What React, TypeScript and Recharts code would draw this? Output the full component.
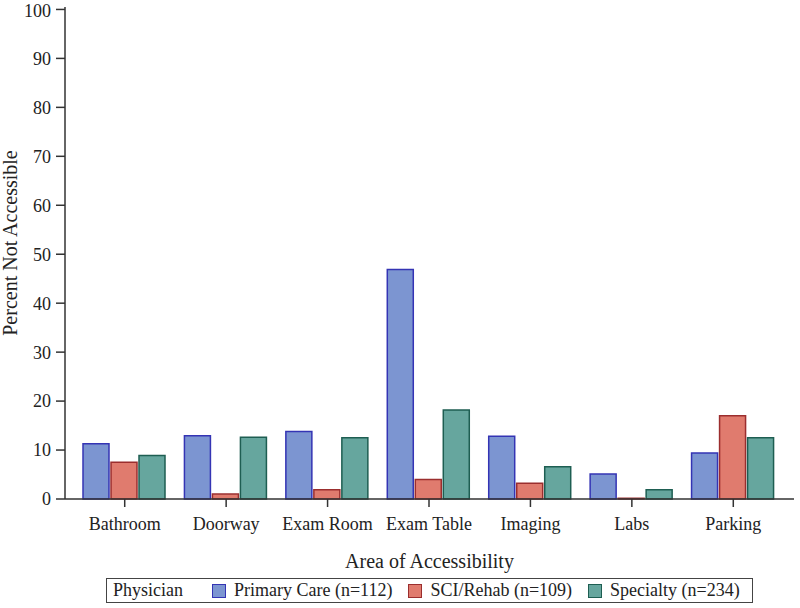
import { BarChart, Bar, XAxis, YAxis, Legend } from 'recharts';

const categories = ['Bathroom', 'Doorway', 'Exam Room', 'Exam Table', 'Imaging', 'Labs', 'Parking'];
const primaryCare = [11.3, 12.9, 13.8, 46.9, 12.8, 5.1, 9.4];
const sciRehab = [7.5, 1.0, 1.9, 4.0, 3.2, 0.15, 17.0];
const specialty = [8.9, 12.6, 12.5, 18.2, 6.6, 1.9, 12.5];
const yTicks = [0, 10, 20, 30, 40, 50, 60, 70, 80, 90, 100];

const seriesNames = ['Primary Care (n=112)', 'SCI/Rehab (n=109)', 'Specialty (n=234)'];

const FONT = '"Liberation Serif", "Times New Roman", serif';
const AXIS = '#333333';

const data = categories.map((name, i) => ({
  name,
  pc: primaryCare[i],
  sci: sciRehab[i],
  spec: specialty[i],
}));

// legend box with the "Physician" title in front
function LegendBox({ payload }: any) {
  return (
    <div
      style={{
        boxSizing: 'border-box',
        height: 25,
        border: '1.5px solid #444',
        display: 'flex',
        alignItems: 'center',
        fontFamily: FONT,
        fontSize: 18,
        color: '#222',
        paddingLeft: 6,
        whiteSpace: 'nowrap',
        overflow: 'hidden',
      }}
    >
      <span style={{ marginRight: 29 }}>Physician</span>
      {(payload || []).map((p: any) => (
        <span key={p.value} style={{ display: 'inline-flex', alignItems: 'center', marginRight: 16 }}>
          <span
            style={{
              display: 'inline-block',
              width: 12,
              height: 12,
              background: p.payload.fill,
              border: `1px solid ${p.payload.stroke}`,
              marginRight: 8,
            }}
          />
          {p.value}
        </span>
      ))}
    </div>
  );
}

// rotated y title, sits a little above the plot centre like the original
function YTitle({ viewBox }: any) {
  const x = viewBox.x + 17;
  const y = viewBox.y + viewBox.height / 2 - 10;
  return (
    <text
      x={x}
      y={y}
      transform={`rotate(-90, ${x}, ${y})`}
      textAnchor="middle"
      fontSize={20}
      fill="#222"
      fontFamily={FONT}
    >
      Percent Not Accessible
    </text>
  );
}

export default function App() {
  return (
    <div style={{ position: 'absolute', left: 0, top: 0, width: 800, height: 608, background: '#fff' }}>
      <BarChart
        width={800}
        height={608}
        data={data}
        margin={{ top: 7, right: 6, bottom: 5, left: 0 }}
        barCategoryGap={9}
        barGap={2}
      >
        <XAxis
          dataKey="name"
          height={79}
          padding={{ left: 9, right: 10 }}
          tickSize={8}
          tickMargin={10}
          stroke={AXIS}
          strokeWidth={1.5}
          tick={{ fontSize: 18, fill: '#222', fontFamily: FONT }}
          interval={0}
          label={{
            value: 'Area of Accessibility',
            position: 'insideBottom',
            offset: 10,
            style: { fontSize: 20, fill: '#222', fontFamily: FONT },
          }}
        />
        <XAxis
          xAxisId="top"
          orientation="top"
          dataKey="name"
          height={0}
          tick={false}
          tickLine={false}
          stroke="#444"
          strokeWidth={1.5}
        />
        <YAxis
          width={65}
          domain={[0, 100.5]}
          ticks={yTicks}
          tickSize={9}
          tickMargin={5}
          stroke={AXIS}
          strokeWidth={1.5}
          tick={{ fontSize: 18, fill: '#222', fontFamily: FONT }}
          label={{ content: <YTitle /> }}
        />
        <YAxis
          yAxisId="right"
          orientation="right"
          width={0}
          domain={[0, 100.5]}
          tick={false}
          tickLine={false}
          stroke="#444"
          strokeWidth={1.5}
        />
        <Legend
          verticalAlign="bottom"
          content={<LegendBox />}
          wrapperStyle={{ left: 106, width: 647, bottom: 5 }}
        />
        <Bar dataKey="pc" name={seriesNames[0]} fill="#7C95D1" stroke="#3434B4" strokeWidth={1.5} isAnimationActive={false} />
        <Bar dataKey="sci" name={seriesNames[1]} fill="#E07B6E" stroke="#9B2E2E" strokeWidth={1.5} isAnimationActive={false} />
        <Bar dataKey="spec" name={seriesNames[2]} fill="#66A69E" stroke="#1E5E52" strokeWidth={1.5} isAnimationActive={false} />
      </BarChart>
    </div>
  );
}
